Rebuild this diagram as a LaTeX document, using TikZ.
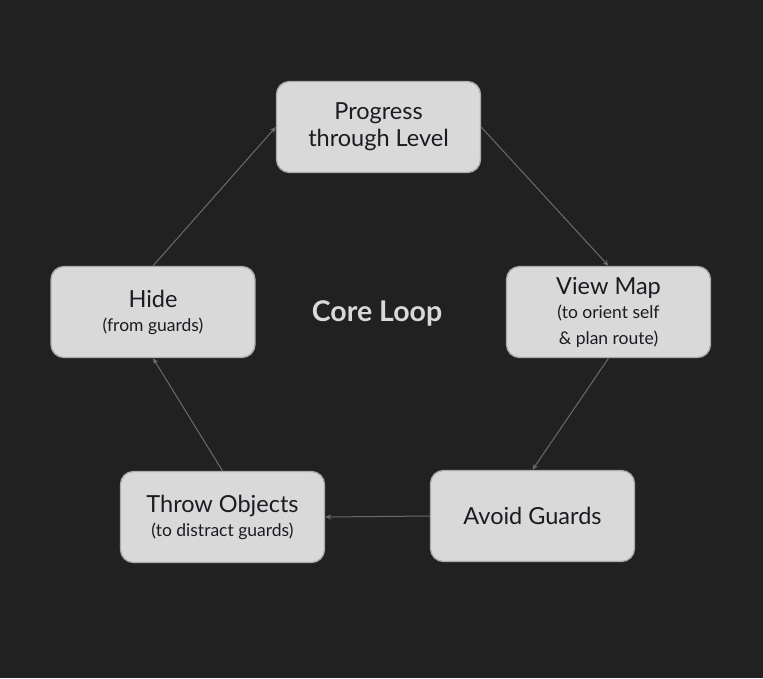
\documentclass[tikz,border=0pt]{standalone}
\usepackage{fontspec}
\setmainfont{Lato}
\usetikzlibrary{arrows.meta}
\definecolor{bgdark}{HTML}{212121}
\definecolor{boxfill}{HTML}{D9D9D9}
\definecolor{boxline}{HTML}{ABABAB}
\definecolor{linkgray}{HTML}{6B6B6B}
\definecolor{inkdark}{HTML}{1B1B22}
\newcommand{\Note}[1]{{\fontsize{17.5}{24}\selectfont #1}}

\begin{document}
\begin{tikzpicture}[
    x=1pt, y=-1pt,
    every node/.append style={font=\fontsize{23.5}{27}\selectfont},
    stagebox/.style={draw=boxline, line width=1.3pt, fill=boxfill, rounded corners=13pt,
        minimum width=204pt, minimum height=91pt, align=center, text=inkdark, inner sep=2pt},
    link/.style={draw=linkgray, line width=1pt, -{Stealth[length=6pt,width=5pt]}}
]
    \fill[bgdark] (0,0) rectangle (763,678);
    \node[stagebox] (prog)  at (378.5,127) {Progress\\through Level};
    \node[stagebox] (view)  at (608.5,312) {View Map\\[-3pt]\Note{(to orient self}\\[-1pt]\Note{\& plan route)}};
    \node[stagebox] (avoid) at (532.5,516) {Avoid Guards};
    \node[stagebox] (throw) at (222.5,517) {Throw Objects\\[-3pt]\Note{(to distract guards)}};
    \node[stagebox] (hide)  at (153,312)   {Hide\\[-3pt]\Note{(from guards)}};
    \node[font=\fontsize{28.5}{32}\selectfont\bfseries, text=boxfill] (core) at (377,313) {Core Loop};
    \draw[link] (prog.east)   -- (view.north);
    \draw[link] (view.south)  -- (avoid.north);
    \draw[link] (avoid.west)  -- (throw.east);
    \draw[link] (throw.north) -- (hide.south);
    \draw[link] (hide.north)  -- (prog.west);
\end{tikzpicture}
\end{document}
